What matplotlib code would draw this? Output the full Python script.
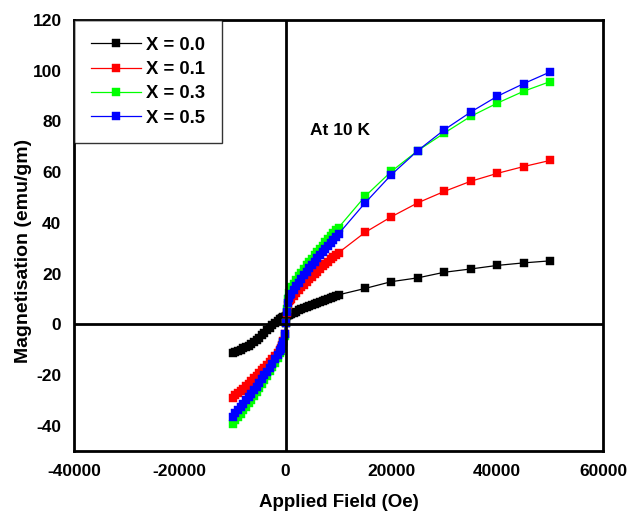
import matplotlib
matplotlib.use("Agg")
import matplotlib.pyplot as plt

plt.rcParams['font.family'] = ['Liberation Sans', 'DejaVu Sans']
plt.rcParams['font.weight'] = 'bold'
plt.rcParams['axes.unicode_minus'] = False

field = [-10000, -9500, -9000, -8500, -8000, -7500, -7000, -6500, -6000, -5500,
         -5000, -4500, -4000, -3500, -3000, -2500, -2000, -1500, -1000,
         -800, -600, -400, -200, 0, 200, 400, 600, 800,
         1000, 1500, 2000, 2500, 3000, 3500, 4000, 4500, 5000, 5500,
         6000, 6500, 7000, 7500, 8000, 8500, 9000, 9500, 10000,
         15000, 20000, 25000, 30000, 35000, 40000, 45000, 50000]

m_x00 = [-11.2, -10.9, -10.5, -10.0, -9.5, -9.0, -8.4, -7.7, -7.0, -6.2,
         -5.3, -4.4, -3.4, -2.4, -1.4, -0.4, 0.5, 1.3, 2.0,
         2.2, 2.5, 2.7, 2.9, 3.1, 3.3, 3.5, 3.7, 3.9,
         4.2, 4.6, 5.0, 5.5, 5.9, 6.3, 6.7, 7.1, 7.5, 7.9,
         8.3, 8.7, 9.1, 9.5, 9.9, 10.3, 10.7, 11.1, 11.6,
         14.1, 16.8, 18.3, 20.5, 21.8, 23.2, 24.2, 25.0]

m_x01 = [-29.0, -28.1, -27.2, -26.3, -25.4, -24.4, -23.4, -22.4, -21.4, -20.4,
         -19.3, -18.2, -17.1, -16.0, -14.9, -13.7, -12.5, -11.3, -10.0,
         -9.2, -8.2, -6.6, -3.8, 0.3, 4.5, 7.5, 9.0, 9.6,
         10.0, 11.2, 12.3, 13.4, 14.5, 15.6, 16.7, 17.8, 18.8, 19.8,
         20.8, 21.8, 22.8, 23.7, 24.7, 25.6, 26.5, 27.4, 28.2,
         36.2, 42.4, 47.9, 52.4, 56.4, 59.5, 62.2, 64.6]

m_x03 = [-39.2, -37.9, -36.6, -35.3, -33.9, -32.5, -31.1, -29.7, -28.2, -26.7,
         -25.2, -23.6, -22.0, -20.3, -18.6, -16.9, -15.2, -13.4, -11.5,
         -10.6, -9.4, -7.5, -4.5, 0.5, 6.0, 10.0, 12.3, 13.6,
         14.5, 16.0, 17.5, 18.9, 20.4, 21.8, 23.2, 24.5, 25.9, 27.2,
         28.5, 29.8, 31.0, 32.3, 33.5, 34.7, 35.8, 37.0, 38.1,
         50.4, 60.3, 68.5, 75.4, 82.0, 87.2, 91.9, 95.7]

m_x05 = [-36.5, -35.2, -33.9, -32.6, -31.3, -30.0, -28.7, -27.4, -26.0, -24.6,
         -23.2, -21.7, -20.2, -18.7, -17.1, -15.5, -13.9, -12.2, -10.5,
         -9.8, -8.7, -7.0, -4.0, 0.5, 5.0, 8.5, 10.5, 11.4,
         12.0, 13.5, 15.0, 16.4, 17.9, 19.3, 20.7, 22.0, 23.4, 24.7,
         26.0, 27.3, 28.5, 29.8, 31.0, 32.2, 33.3, 34.5, 35.6,
         47.8, 59.0, 68.5, 76.7, 83.7, 89.9, 94.9, 99.5]

series = [("X = 0.0", m_x00, "#000000"),
          ("X = 0.1", m_x01, "#ff0000"),
          ("X = 0.3", m_x03, "#00ff00"),
          ("X = 0.5", m_x05, "#0000ff")]

x_ticks = [-40000, -20000, 0, 20000, 40000, 60000]
y_ticks = [-40, -20, 0, 20, 40, 60, 80, 100, 120]

fig = plt.figure(figsize=(6.32, 5.11), dpi=100)
ax = fig.add_axes([74/632, 1 - 451/511, (603-74)/632, (451-20)/511])

for label, vals, col in series:
    ax.plot(field, vals, color=col, lw=0.9, marker='s', ms=5.8,
            mfc=col, mec=col, mew=0.3, label=label, zorder=2)

ax.axhline(0, color='black', lw=2, zorder=3)
ax.axvline(0, color='black', lw=2, zorder=3)

ax.set_xlim(-40000, 60000)
ax.set_ylim(-50, 120)
ax.set_xticks(x_ticks)
ax.set_yticks(y_ticks)
ax.tick_params(length=0, labelsize=12.5)
ax.tick_params(axis='x', pad=9)
ax.tick_params(axis='y', pad=9)
for lab in ax.get_xticklabels() + ax.get_yticklabels():
    lab.set_fontweight('bold')
for s in ax.spines.values():
    s.set_linewidth(2)
    s.set_color('black')

ax.set_xlabel("Applied Field (Oe)", fontsize=13.5, fontweight='bold', labelpad=11)
ax.set_ylabel("Magnetisation (emu/gm)", fontsize=14, fontweight='bold')
ax.yaxis.set_label_coords(-0.08, 0.465)

ax.text(4700, 76.5, "At 10 K", fontsize=12.5, fontweight='bold', va='center', ha='left')

leg = ax.legend(loc='upper left', bbox_to_anchor=(0, 1), borderaxespad=0,
                fontsize=13.3, frameon=True, fancybox=False, edgecolor='black',
                handlelength=2.7, handletextpad=0.32, labelspacing=0.4,
                borderpad=0.9)
leg.get_frame().set_linewidth(1.0)
for t in leg.get_texts():
    t.set_fontweight('bold')

fig.savefig("out.png", dpi=100)
